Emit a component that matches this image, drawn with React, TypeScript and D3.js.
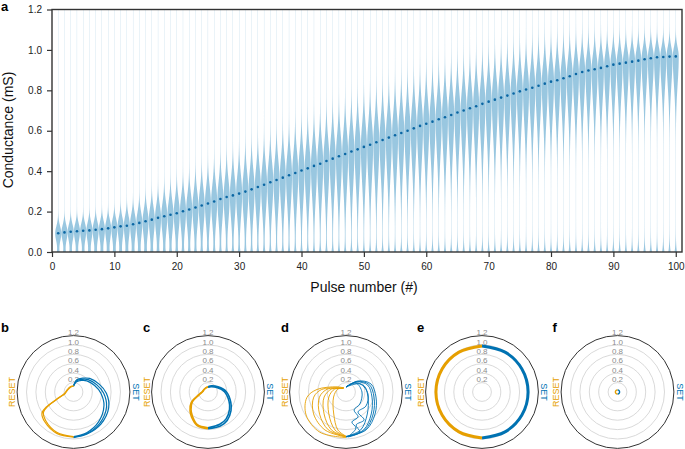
import { useEffect, useRef } from "react";
import * as d3 from "d3";

// ---- panel a: violin per pulse
const pulseNumbers = d3.range(1, 101);
const meanConductance = [
  0.093, 0.097, 0.1, 0.103, 0.105, 0.107, 0.11, 0.113, 0.117, 0.122,
  0.127, 0.13, 0.137, 0.144, 0.152, 0.16, 0.169, 0.177, 0.184, 0.192,
  0.202, 0.21, 0.22, 0.23, 0.24, 0.25, 0.262, 0.272, 0.28, 0.289,
  0.299, 0.31, 0.322, 0.333, 0.345, 0.356, 0.368, 0.38, 0.391, 0.403,
  0.414, 0.426, 0.437, 0.45, 0.462, 0.474, 0.485, 0.497, 0.508, 0.52,
  0.531, 0.543, 0.554, 0.566, 0.578, 0.589, 0.6, 0.612, 0.624, 0.635,
  0.645, 0.657, 0.667, 0.678, 0.69, 0.7, 0.711, 0.721, 0.733, 0.744,
  0.754, 0.764, 0.774, 0.784, 0.795, 0.804, 0.813, 0.823, 0.833, 0.843,
  0.85, 0.86, 0.87, 0.881, 0.891, 0.898, 0.904, 0.911, 0.919, 0.927,
  0.932, 0.937, 0.942, 0.947, 0.954, 0.959, 0.964, 0.965, 0.967, 0.968,
];
// spread of the distribution above / below the mean, read at a few pulses
const spreadPulses = [1, 10, 20, 30, 40, 50, 60, 70, 80, 90, 100];
const spreadUp = [0.035, 0.04, 0.07, 0.09, 0.1, 0.108, 0.108, 0.1, 0.09, 0.062, 0.045];
const spreadDown = [0.038, 0.06, 0.09, 0.12, 0.15, 0.17, 0.17, 0.17, 0.16, 0.15, 0.14];

const xTicks = [0, 10, 20, 30, 40, 50, 60, 70, 80, 90, 100];
const yTicks = [0, 0.2, 0.4, 0.6, 0.8, 1.0, 1.2];
const ringTicks = [0.2, 0.4, 0.6, 0.8, 1.0, 1.2];

// ---- panels b-f: [angle (deg, clockwise from top), conductance]
type Pt = [number, number];
const bSet: Pt[][] = [
  [[0, 0.12], [15, 0.22], [35, 0.3], [50, 0.37], [73, 0.47], [92, 0.58], [114, 0.71], [140, 0.83], [162, 0.91], [180, 0.95]],
  [[0, 0.13], [15, 0.25], [35, 0.33], [50, 0.41], [73, 0.52], [92, 0.64], [114, 0.77], [140, 0.87], [162, 0.93], [180, 0.96]],
  [[0, 0.14], [15, 0.27], [35, 0.36], [50, 0.45], [73, 0.57], [92, 0.7], [114, 0.82], [140, 0.9], [162, 0.94], [180, 0.97]],
];
const bReset: Pt[][] = [
  [[180, 0.95], [202, 0.93], [224, 0.85], [236, 0.77], [241, 0.62], [248, 0.33], [260, 0.18], [290, 0.13], [320, 0.12], [345, 0.12], [360, 0.12]],
  [[180, 0.96], [202, 0.95], [224, 0.88], [236, 0.81], [241, 0.66], [248, 0.36], [260, 0.2], [290, 0.14], [320, 0.13], [345, 0.13], [360, 0.13]],
];
const cSet: Pt[][] = [
  [[0, 0.1], [30, 0.13], [63, 0.21], [89, 0.35], [114, 0.49], [129, 0.59], [146, 0.69], [160, 0.73], [180, 0.76]],
  [[0, 0.11], [30, 0.15], [63, 0.24], [89, 0.39], [114, 0.53], [129, 0.63], [146, 0.73], [160, 0.77], [180, 0.78]],
];
const cReset: Pt[][] = [
  [[180, 0.76], [198, 0.73], [213, 0.61], [224, 0.52], [238, 0.39], [252, 0.2], [275, 0.11], [300, 0.1], [340, 0.1], [360, 0.1]],
  [[180, 0.78], [198, 0.75], [213, 0.64], [224, 0.55], [238, 0.42], [252, 0.22], [275, 0.12], [300, 0.1], [340, 0.1], [360, 0.11]],
];
const dSet: Pt[][] = [
  [[0, 0.106], [47.5, 0.346], [72, 0.558], [99.5, 0.647], [127, 0.775], [152, 0.913], [180, 0.957]],
  [[0, 0.106], [46.8, 0.327], [72.1, 0.519], [100.1, 0.605], [129, 0.744], [153.7, 0.902], [180, 0.955]],
  [[0, 0.106], [46, 0.307], [72, 0.483], [101, 0.563], [131, 0.712], [155, 0.889], [180, 0.95]],
  [[0, 0.106], [44, 0.268], [72, 0.41], [103, 0.48], [136, 0.652], [159, 0.867], [180, 0.945]],
  [[0, 0.106], [48, 0.286], [90, 0.34], [131, 0.39], [156, 0.419], [154, 0.59], [169, 0.651], [164.5, 0.795], [176, 0.938]],
  [[0, 0.106], [60, 0.343], [95, 0.47], [125, 0.519], [149, 0.496], [147, 0.708], [163, 0.734], [161, 0.902], [177.5, 0.958]],
];
const dReset: Pt[][] = [
  [[180, 0.97], [213, 1.02], [240, 0.98], [262, 0.84], [275, 0.62], [300, 0.22], [330, 0.1]],
  [[180, 0.957], [209, 0.924], [236, 0.832], [261, 0.695], [276, 0.52], [300, 0.18], [330, 0.1]],
  [[180, 0.95], [205, 0.889], [230, 0.734], [259, 0.576], [279, 0.4], [305, 0.14], [330, 0.1]],
  [[180, 0.95], [201, 0.864], [225, 0.66], [257, 0.478], [282, 0.311], [310, 0.12], [330, 0.1]],
  [[180, 0.945], [196, 0.843], [218, 0.593], [254, 0.379], [285, 0.247], [315, 0.11], [330, 0.1]],
  [[180, 0.94], [192, 0.827], [209, 0.537], [248, 0.285], [290, 0.184], [320, 0.1], [330, 0.1]],
];
const eSet: Pt[][] = [
  [[0, 0.98], [30, 0.98], [60, 0.98], [90, 0.98], [120, 0.98], [150, 0.98], [180, 0.98]],
];
const eReset: Pt[][] = [
  [[180, 0.98], [210, 0.98], [240, 0.98], [270, 0.98], [300, 0.98], [330, 0.98], [360, 0.98]],
];
const fSet: Pt[][] = [[[0, 0.045], [45, 0.045], [90, 0.045], [135, 0.045], [180, 0.045]]];
const fReset: Pt[][] = [[[180, 0.045], [225, 0.045], [270, 0.045], [315, 0.045], [360, 0.045]]];

const panelLetters = ["b", "c", "d", "e", "f"];
const panelSet = [bSet, cSet, dSet, eSet, fSet];
const panelReset = [bReset, cReset, dReset, eReset, fReset];

const BLUE = "#0072b2";
const ORANGE = "#e69f00";
const FONT = "'Liberation Sans', Arial, Helvetica, sans-serif";

export default function App() {
  const ref = useRef<SVGSVGElement>(null);

  useEffect(() => {
    if (!ref.current) return;
    const svg = d3.select(ref.current);
    svg.selectAll("*").remove();

    // ---------- a
    const x = d3.scaleLinear().domain([0, 101]).range([52, 682]);
    const y = d3.scaleLinear().domain([0, 1.2]).range([252, 9.5]);
    const sUp = d3.scaleLinear().domain(spreadPulses).range(spreadUp);
    const sDown = d3.scaleLinear().domain(spreadPulses).range(spreadDown);
    const levels = d3.range(0, 1.2001, 0.004);
    const wMax = 2.9;

    const gv = svg.append("g");
    pulseNumbers.forEach((p, i) => {
      const m = meanConductance[i];
      const su = sUp(p);
      const sd = sDown(p);
      const hw = (v: number) => {
        const s = v > m ? su : sd;
        const g = Math.exp(-((v - m) * (v - m)) / (2 * s * s));
        return wMax * (g + 0.035 + 0.4 * Math.exp(-v / 0.03));
      };
      const area = d3
        .area<number>()
        .y((v) => y(v))
        .x0((v) => x(p) - hw(v))
        .x1((v) => x(p) + hw(v));
      gv.append("path")
        .attr("d", area(levels))
        .attr("fill", BLUE)
        .attr("fill-opacity", 0.4);
    });

    svg
      .append("g")
      .selectAll("circle")
      .data(pulseNumbers)
      .enter()
      .append("circle")
      .attr("cx", (p) => x(p))
      .attr("cy", (_p, i) => y(meanConductance[i]))
      .attr("r", 1.3)
      .attr("fill", "#0a66a3");

    const gx = svg
      .append("g")
      .attr("transform", "translate(0,252)")
      .call(
        d3.axisBottom(x).tickValues(xTicks).tickSize(5).tickPadding(6).tickSizeOuter(0)
      );
    const gy = svg
      .append("g")
      .attr("transform", "translate(52,0)")
      .call(
        d3
          .axisLeft(y)
          .tickValues(yTicks)
          .tickFormat(d3.format(".1f"))
          .tickSize(5)
          .tickPadding(5)
          .tickSizeOuter(0)
      );
    [gx, gy].forEach((g) => {
      g.attr("font-size", 10).attr("font-family", FONT);
      g.selectAll("text").attr("fill", "#222");
      g.selectAll("line").attr("stroke", "#333").attr("stroke-width", 1.2);
      g.select(".domain").attr("stroke", "none");
    });

    svg
      .append("rect")
      .attr("x", 52)
      .attr("y", 9.5)
      .attr("width", 630)
      .attr("height", 242.5)
      .attr("fill", "none")
      .attr("stroke", "#333")
      .attr("stroke-width", 1.4);

    svg
      .append("text")
      .attr("x", 364)
      .attr("y", 291.5)
      .attr("text-anchor", "middle")
      .attr("font-family", FONT)
      .attr("font-size", 14)
      .attr("fill", "#111")
      .text("Pulse number (#)");
    svg
      .append("text")
      .attr("transform", "translate(12.5,130) rotate(-90)")
      .attr("text-anchor", "middle")
      .attr("font-family", FONT)
      .attr("font-size", 14)
      .attr("fill", "#111")
      .text("Conductance (mS)");
    svg
      .append("text")
      .attr("x", 1)
      .attr("y", 11)
      .attr("font-family", FONT)
      .attr("font-size", 13)
      .attr("font-weight", "bold")
      .text("a");

    // ---------- b-f polar panels
    const centers = [73.5, 208, 346, 482, 617.5];
    const cy = 392;
    const strokeW = [1.2, 1.6, 0.9, 3, 1.4];
    const r = d3.scaleLinear().domain([0, 1.2]).range([0, 56.4]);
    const radial = d3
      .lineRadial<Pt>()
      .angle((d) => (d[0] * Math.PI) / 180)
      .radius((d) => r(d[1]))
      .curve(d3.curveCatmullRom);

    panelLetters.forEach((letter, i) => {
      const cx = centers[i];
      const g = svg.append("g").attr("transform", `translate(${cx},${cy})`);

      g.selectAll("circle.ring")
        .data(ringTicks)
        .enter()
        .append("circle")
        .attr("class", "ring")
        .attr("r", (t) => r(t))
        .attr("fill", "none")
        .attr("stroke", (t) => (t === 1.2 ? "#333" : "#cfcfcf"))
        .attr("stroke-width", (t) => (t === 1.2 ? 1 : 0.8));

      g.selectAll("text.ring")
        .data(ringTicks)
        .enter()
        .append("text")
        .attr("class", "ring")
        .attr("x", 0)
        .attr("y", (t) => -r(t) - 0.5)
        .attr("text-anchor", "middle")
        .attr("font-family", FONT)
        .attr("font-size", 8)
        .attr("fill", "#8c8c8c")
        .text((t) => d3.format(".1f")(t));

      panelSet[i].forEach((tr) => {
        g.append("path")
          .attr("d", radial(tr))
          .attr("fill", "none")
          .attr("stroke", BLUE)
          .attr("stroke-width", strokeW[i]);
      });
      panelReset[i].forEach((tr) => {
        g.append("path")
          .attr("d", radial(tr))
          .attr("fill", "none")
          .attr("stroke", ORANGE)
          .attr("stroke-width", strokeW[i]);
      });

      g.append("text")
        .attr("transform", "translate(59,0) rotate(90)")
        .attr("text-anchor", "middle")
        .attr("font-family", FONT)
        .attr("font-size", 9)
        .attr("fill", BLUE)
        .text("SET");
      g.append("text")
        .attr("transform", "translate(-58.5,0) rotate(-90)")
        .attr("text-anchor", "middle")
        .attr("font-family", FONT)
        .attr("font-size", 9)
        .attr("fill", ORANGE)
        .text("RESET");

      svg
        .append("text")
        .attr("x", i === 0 ? 1 : cx - 65)
        .attr("y", 331.5)
        .attr("font-family", FONT)
        .attr("font-size", 13)
        .attr("font-weight", "bold")
        .text(letter);
    });
  }, []);

  return (
    <svg
      ref={ref}
      width={685}
      height={449}
      style={{ position: "absolute", left: 0, top: 0, background: "#fff" }}
    />
  );
}
